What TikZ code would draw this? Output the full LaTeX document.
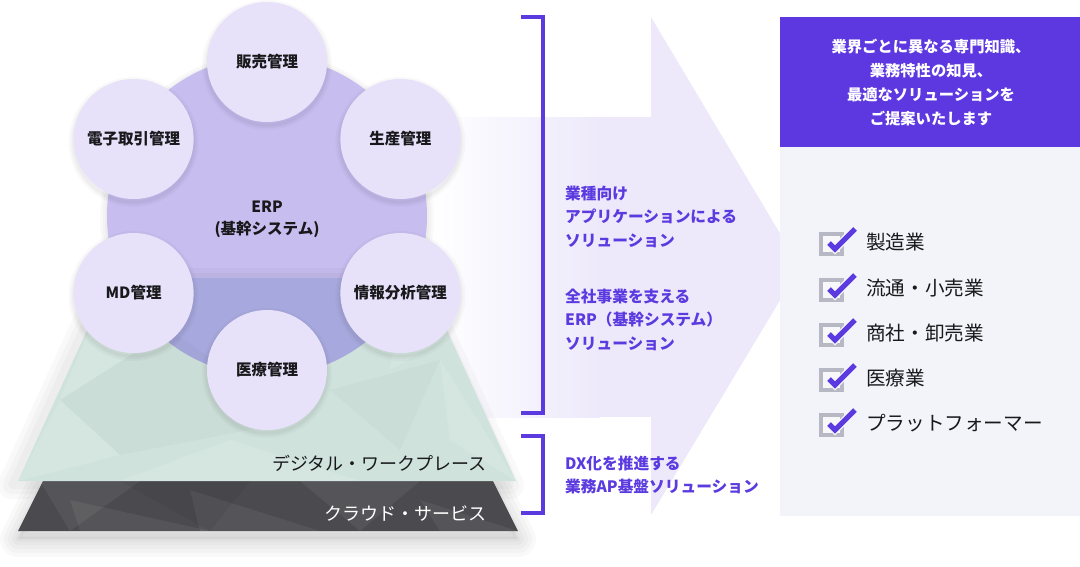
\documentclass[tikz,border=0pt]{standalone}
\usepackage{fontspec}
\setmainfont{Noto Sans CJK JP}
\definecolor{accent}{RGB}{91,58,224}
\definecolor{headc}{RGB}{93,56,225}
\definecolor{arrowc}{RGB}{237,233,251}
\definecolor{panelc}{RGB}{243,244,249}
\definecolor{smallc}{RGB}{231,226,250}
\definecolor{bigc}{RGB}{199,189,239}
\definecolor{overc}{RGB}{167,168,222}
\definecolor{greenc}{RGB}{207,227,220}
\definecolor{darkc}{RGB}{75,74,78}
\definecolor{boxgray}{RGB}{182,185,195}
\definecolor{inkc}{RGB}{25,25,28}
\begin{document}
\begin{tikzpicture}[x=1pt,y=-1pt,
  subcircle/.style={circle, minimum size=120pt, inner sep=0pt, fill=smallc, text=inkc,
    font=\bfseries\fontsize{15.5}{18}\selectfont},
  midtext/.style={anchor=west, align=left, inner sep=0pt, text=accent,
    font=\bfseries\fontsize{15.7}{23.5}\selectfont},
  itemtext/.style={anchor=west, inner sep=0pt, text=inkc, font=\fontsize{19.6}{22}\selectfont},
  bracket/.style={draw=accent, line width=4pt, line join=miter},
  boxline/.style={draw=boxgray, line width=4pt},
  tick/.style={draw=accent, line width=5pt, line join=miter},
  facetw/.style={fill=white, fill opacity=0.13},
  facetk/.style={fill=black, fill opacity=0.025},
  facetc/.style={fill=white, fill opacity=0.06},
  shadowring/.style={draw=black, draw opacity=0.022, line join=round}
]
\useasboundingbox (0,0) rectangle (1080,566);
\fill[white] (0,0) rectangle (1080,566);

% arrow band and head
\shade[left color=white, right color=arrowc] (430,117) rectangle (600,417);
\fill[arrowc] (599,117) rectangle (652,417);
\fill[arrowc] (651,17) -- (800,267) -- (651,515) -- cycle;

% right panel
\fill[panelc] (780,147) rectangle (1080,516);
\fill[headc] (780,17) rectangle (1080,147);
\node[align=center, text=white, inner sep=0pt, font=\bfseries\fontsize{15.3}{24}\selectfont]
  (head) at (931,82) {業界ごとに異なる専門知識、\\業務特性の知見、\\最適なソリューションを\\ご提案いたします};

% big ERP circle
\foreach \w in {14,9,4}{\draw[shadowring, line width=\w pt] (267,219) circle (160);}
\node[circle, minimum size=320pt, inner sep=0pt, fill=bigc] (erp) at (267,216) {};
\node[align=center, inner sep=0pt, text=inkc, font=\bfseries\fontsize{15.5}{22}\selectfont] (erpt) at (267,219) {ERP\\(基幹システム)};

% cloud layer shadow
\foreach \w in {36,28,20,12,5}{
  \draw[shadowring, line width=\w pt] (43,489) -- (493,489) -- (518,539) -- (18,539) -- cycle;}
\fill[black, fill opacity=0.05] (43,489) -- (493,489) -- (518,539) -- (18,539) -- cycle;
% digital layer shadow
\foreach \w in {28,18,8}{
  \draw[shadowring, line width=\w pt] (105,282) -- (417,282) -- (510,485) -- (12,485) -- cycle;}

% cloud layer
\fill[darkc] (43,481) -- (493,481) -- (518,531) -- (18,531) -- cycle;
\begin{scope}
  \clip (43,481) -- (493,481) -- (518,531) -- (18,531) -- cycle;
  \fill[facetc] (40,481) -- (140,481) -- (70,531) -- cycle;
  \fill[facetc] (70,500) -- (210,531) -- (80,531) -- cycle;
  \fill[facetc] (190,490) -- (320,531) -- (200,531) -- cycle;
  \fill[facetc] (300,481) -- (420,481) -- (360,531) -- cycle;
  \fill[facetc] (420,500) -- (518,531) -- (440,531) -- cycle;
  \fill[black, fill opacity=0.05] (120,481) -- (250,481) -- (210,531) -- cycle;
\end{scope}

% digital workplace layer
\fill[greenc] (111,278) -- (423,278) -- (516,481) -- (18,481) -- cycle;
\begin{scope}
  \clip (111,278) -- (423,278) -- (516,481) -- (18,481) -- cycle;
  \fill[overc] (erp.center) circle (160);
  \fill[facetw] (111,278) -- (170,330) -- (60,400) -- cycle;
  \fill[facetw] (18,481) -- (120,455) -- (60,400) -- cycle;
  \fill[facetk] (170,330) -- (300,420) -- (120,455) -- cycle;
  \fill[facetw] (230,440) -- (360,481) -- (120,481) -- cycle;
  \fill[facetk] (330,390) -- (440,360) -- (400,450) -- cycle;
  \fill[facetw] (400,300) -- (460,330) -- (390,370) -- cycle;
  \fill[facetw] (440,360) -- (516,481) -- (450,440) -- cycle;
  \fill[facetk] (60,400) -- (170,330) -- (120,455) -- cycle;
\end{scope}
\node[anchor=east, inner sep=0pt, text=inkc, font=\fontsize{18}{20}\selectfont] (dwp) at (487,463) {デジタル・ワークプレース};
\node[anchor=east, inner sep=0pt, text=white, font=\fontsize{18}{20}\selectfont] (cld) at (487,513) {クラウド・サービス};

% small circles with soft shadows
\foreach \x/\y in {267/62, 400.4/139, 400.4/293, 267/370, 133.6/293, 133.6/139}{
  \foreach \w in {10,6,3}{\draw[shadowring, line width=\w pt] (\x,\y+3) circle (60);}
}
\node[subcircle] (c1) at (267,62) {販売管理};
\node[subcircle] (c2) at (400.4,139) {生産管理};
\node[subcircle] (c3) at (400.4,293) {情報分析管理};
\node[subcircle] (c4) at (267,370) {医療管理};
\node[subcircle] (c5) at (133.6,293) {MD管理};
\node[subcircle] (c6) at (133.6,139) {電子取引管理};

% brackets
\coordinate (b1a) at (521,17); \coordinate (b1b) at (543,17);
\coordinate (b1c) at (543,413); \coordinate (b1d) at (521,413);
\draw[bracket] (b1a) -- (b1b) -- (b1c) -- (b1d);
\coordinate (b2a) at (521,436); \coordinate (b2b) at (543,436);
\coordinate (b2c) at (543,513); \coordinate (b2d) at (521,513);
\draw[bracket] (b2a) -- (b2b) -- (b2c) -- (b2d);

% middle texts
\node[midtext] (m1) at (565,216.5) {業種向け\\アプリケーションによる\\ソリューション};
\node[midtext] (m2) at (565,319.5) {全社事業を支える\\ERP（基幹システム）\\ソリューション};
\node[midtext] (m3) at (565,475) {DX化を推進する\\業務AP基盤ソリューション};

% check list
\foreach \y/\t [count=\i] in {242/製造業, 288/流通・小売業, 333/商社・卸売業, 378/医療業, 423/プラットフォーマー}{
  \fill[panelc!60!white] (821,\y-8) rectangle (842,\y+12);
  \draw[boxline] (821,\y-8) rectangle (842,\y+12);
  \draw[panelc, line width=8pt] (829,\y+1) -- (835,\y+7) -- (855,\y-13);
  \draw[tick] (829,\y+1) -- (835,\y+7) -- (855,\y-13);
  \node[itemtext] (it\i) at (866,\y) {\t};
}
\end{tikzpicture}
\end{document}
